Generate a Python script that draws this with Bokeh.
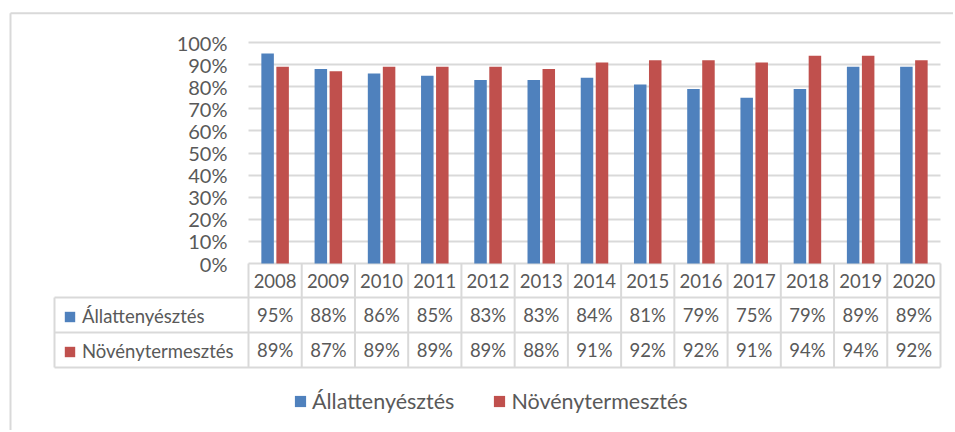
from bokeh.plotting import figure
from bokeh.models import (ColumnDataSource, Range1d, FixedTicker, NumeralTickFormatter,
                          LinearAxis, Grid, Legend, LegendItem)
from bokeh.transform import dodge
from bokeh.core.properties import value
from bokeh.embed import file_html
from bokeh.resources import INLINE

# ---------------- data ----------------
years = ["2008", "2009", "2010", "2011", "2012", "2013", "2014",
         "2015", "2016", "2017", "2018", "2019", "2020"]
allattenyesztes = [95, 88, 86, 85, 83, 83, 84, 81, 79, 75, 79, 89, 89]
novenytermesztes = [89, 87, 89, 89, 89, 88, 91, 92, 92, 91, 94, 94, 92]
series_names = ["Állattenyésztés", "Növénytermesztés"]
y_ticks = [0, 10, 20, 30, 40, 50, 60, 70, 80, 90, 100]

# ---------------- style / layout ----------------
BLUE = "#4F81BD"
RED = "#C0504D"
TXT = "#595959"
LINE = "#D9D9D9"
FONT = "Lato"

W, H = 953, 430
PLOT_L, PLOT_R = 248, 940         # px: category area
TABLE_L = 54                      # px: left edge of data table
Y0, Y100 = 263, 42                # px: 0% and 100%
N = len(years)
CAT = (PLOT_R - PLOT_L) / N       # px per category
PXY = (Y0 - Y100)                 # px per 100%


def xd(sx):
    return (sx - PLOT_L) / CAT


def yd(sy):
    return (Y0 - sy) / PXY


TABLE_SY = [263, 297, 332, 367]   # px: table row boundaries
ROW_Y = [yd((TABLE_SY[i] + TABLE_SY[i + 1]) / 2) for i in range(3)]

src = ColumnDataSource(dict(
    x=[i + 0.5 for i in range(N)],
    year=years,
    a=[v / 100 for v in allattenyesztes],
    n=[v / 100 for v in novenytermesztes],
    a_lbl=[f"{v}%" for v in allattenyesztes],
    n_lbl=[f"{v}%" for v in novenytermesztes],
))

p = figure(width=W, height=H, title=None,
           x_range=Range1d(xd(0), xd(W)), y_range=Range1d(yd(H), yd(0)),
           output_backend="svg", toolbar_location=None,
           x_axis_location=None, y_axis_location=None,
           min_border_left=0, min_border_right=0, min_border_top=0, min_border_bottom=0)
p.outline_line_color = None
p.background_fill_color = "white"
p.border_fill_color = "white"
for g in p.grid:
    g.visible = False

# outer chart border (top and left edges; right/bottom lie outside the window)
p.segment(x0=[xd(10), xd(10)], y0=[yd(12.8), yd(12.8)],
          x1=[xd(W + 20), xd(10)], y1=[yd(12.8), yd(H + 20)],
          line_color=LINE, line_width=2)

# y axis at the left edge of the category area
ticker = FixedTicker(ticks=[t / 100 for t in y_ticks])
yax = LinearAxis(fixed_location=0, ticker=ticker,
                 formatter=NumeralTickFormatter(format="0%"))
yax.axis_line_color = None
yax.major_tick_line_color = None
yax.minor_tick_line_color = None
yax.major_tick_out = 0
yax.major_tick_in = 0
yax.major_label_standoff = 21
yax.major_label_text_font = FONT
yax.major_label_text_font_size = "20px"
yax.major_label_text_color = TXT
p.add_layout(yax, "left")

# horizontal grid restricted to the category area
ygrid = Grid(dimension=1, ticker=ticker, grid_line_color=LINE, grid_line_width=2)
if "cross_bounds" in Grid.properties():
    ygrid.cross_bounds = (0, N)
    p.add_layout(ygrid, "center")
else:
    p.segment(x0=0, x1=N, y0=ticker.ticks, y1=ticker.ticks,
              line_color=LINE, line_width=2, level="underlay")

# bars
r1 = p.vbar(x=dodge("x", -0.141), top="a", width=0.235,
            source=src, fill_color=BLUE, line_color=None)
r2 = p.vbar(x=dodge("x", 0.141), top="n", width=0.235,
            source=src, fill_color=RED, line_color=None)

# year labels: header row of the data table
xax = LinearAxis(fixed_location=0, ticker=FixedTicker(ticks=src.data["x"]),
                 major_label_overrides={x: y for x, y in zip(src.data["x"], years)})
xax.axis_line_color = None
xax.major_tick_line_color = None
xax.minor_tick_line_color = None
xax.major_tick_out = 0
xax.major_tick_in = 0
xax.major_label_standoff = 10
xax.major_label_text_font = FONT
xax.major_label_text_font_size = "18.5px"
xax.major_label_text_color = TXT
p.add_layout(xax, "below")

# table values
for col, yy in (("a_lbl", ROW_Y[1]), ("n_lbl", ROW_Y[2])):
    p.text(x="x", y=yy, text=col, source=src, text_align="center",
           text_baseline="middle", text_font=value(FONT),
           text_font_size="18.5px", text_color=TXT)

# table lines
xs = list(range(N + 1))
p.segment(x0=xs, y0=0, x1=xs, y1=yd(TABLE_SY[-1]), line_color=LINE, line_width=2)
p.segment(x0=xd(TABLE_L), y0=yd(TABLE_SY[1]), x1=xd(TABLE_L), y1=yd(TABLE_SY[-1]),
          line_color=LINE, line_width=2)
hy = [yd(s) for s in TABLE_SY[1:]]
p.segment(x0=xd(TABLE_L), x1=N, y0=hy, y1=hy, line_color=LINE, line_width=2)

# legend keys inside the data table
tbl_leg = Legend(items=[LegendItem(label=series_names[0], renderers=[r1]),
                        LegendItem(label=series_names[1], renderers=[r2])],
                 location=(63, H - 362), orientation="vertical",
                 glyph_width=13, glyph_height=13, label_standoff=6, spacing=13,
                 padding=0, margin=0, border_line_color=None,
                 background_fill_alpha=0, label_text_font=FONT,
                 label_text_font_size="18.5px", label_text_color=TXT,
                 label_height=13)
p.add_layout(tbl_leg)

# bottom legend
bot_leg = Legend(items=[LegendItem(label=series_names[0], renderers=[r1]),
                        LegendItem(label=series_names[1], renderers=[r2])],
                 location=(293, H - 414), orientation="horizontal",
                 glyph_width=14, glyph_height=14, label_standoff=5, spacing=38,
                 padding=0, margin=0, border_line_color=None,
                 background_fill_alpha=0, label_text_font=FONT,
                 label_text_font_size="21.5px", label_text_color=TXT,
                 label_height=14)
p.add_layout(bot_leg)

open("out.html", "w").write(file_html(p, INLINE))
